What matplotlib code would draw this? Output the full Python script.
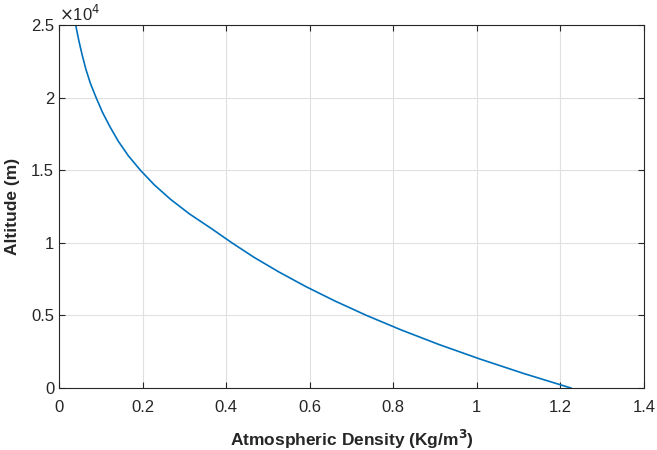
import matplotlib
matplotlib.use("Agg")
import matplotlib.pyplot as plt

# altitude (m) and density (kg/m^3)
altitude = [0, 1000, 2000, 3000, 4000, 5000, 6000, 7000, 8000, 9000,
            10000, 11000, 12000, 13000, 14000, 15000, 16000, 17000,
            18000, 19000, 20000, 21000, 22000, 23000, 24000, 25000]
density = [1.225, 1.112, 1.007, 0.909, 0.819, 0.736, 0.660, 0.590, 0.526,
           0.467, 0.414, 0.364, 0.312, 0.267, 0.228, 0.195, 0.166, 0.142,
           0.122, 0.104, 0.089, 0.075, 0.064, 0.055, 0.047, 0.040]
x_ticks = [0, 0.2, 0.4, 0.6, 0.8, 1, 1.2, 1.4]
y_ticks = [0, 5000, 10000, 15000, 20000, 25000]
y_labels = ["0", "0.5", "1", "1.5", "2", "2.5"]


def main():
    plt.rcParams['font.family'] = ['Liberation Sans', 'DejaVu Sans']
    fig = plt.figure(figsize=(6.57, 4.5), dpi=100)
    ax = fig.add_axes([0.0898, 0.1378, 0.8904, 0.8062])

    ax.plot(density, altitude, color='#0072BD', linewidth=1.2)

    ax.set_xlim(0, 1.4)
    ax.set_ylim(0, 25000)
    ax.set_xticks(x_ticks)
    ax.set_xticklabels([f"{t:g}" for t in x_ticks])
    ax.set_yticks(y_ticks)
    ax.set_yticklabels(y_labels)
    ax.tick_params(direction='in', length=4, labelsize=12,
                   colors='#262626', top=True, right=True)
    ax.tick_params(axis='x', pad=9)
    ax.grid(True, color='#e0e0e0', linewidth=0.8)
    ax.set_axisbelow(True)
    for s in ax.spines.values():
        s.set_color('#262626')
        s.set_linewidth(0.8)

    ax.text(0, 1.003, r"$\times$10$^4$", transform=ax.transAxes,
            fontsize=12, color='#262626', va='bottom', ha='left')

    ax.set_xlabel("Atmospheric Density (Kg/m$^\\mathbf{3}$)",
                  fontsize=12.5, fontweight='bold', color='#262626',
                  labelpad=9)
    ax.set_ylabel("Altitude (m)", fontsize=12.5, fontweight='bold',
                  color='#262626', labelpad=8)

    fig.savefig("out.png", dpi=100)


if __name__ == '__main__':
    main()
